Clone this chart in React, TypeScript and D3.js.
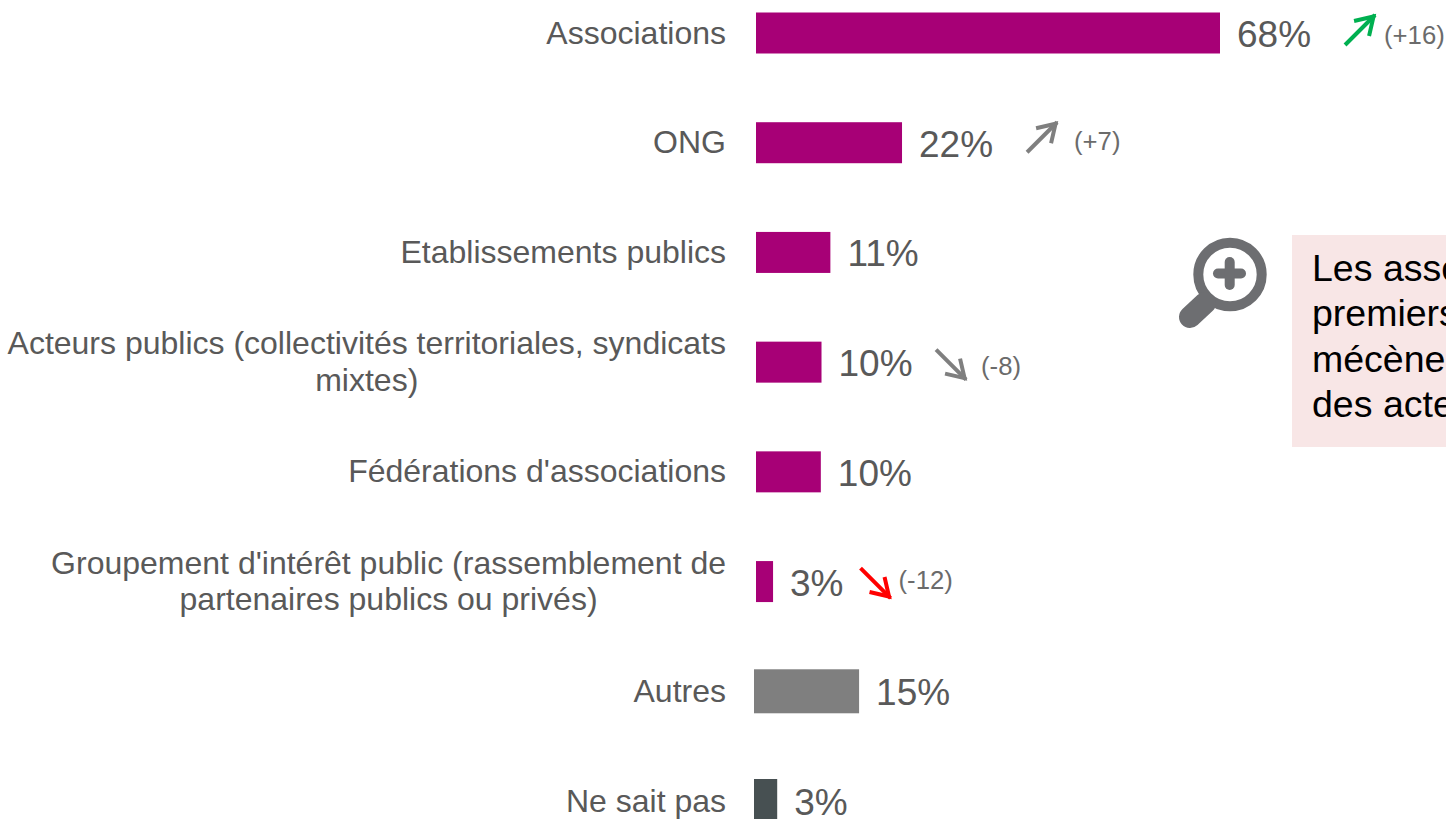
import React from "react";
import * as d3 from "d3";

const categories = [
  "Associations",
  "ONG",
  "Etablissements publics",
  "Acteurs publics (collectivités territoriales, syndicats mixtes)",
  "Fédérations d'associations",
  "Groupement d'intérêt public (rassemblement de partenaires publics ou privés)",
  "Autres",
  "Ne sait pas",
];
const categoryLines = [
  ["Associations"],
  ["ONG"],
  ["Etablissements publics"],
  ["Acteurs publics (collectivités territoriales, syndicats", "mixtes)"],
  ["Fédérations d'associations"],
  ["Groupement d'intérêt public (rassemblement de", "partenaires publics ou privés)"],
  ["Autres"],
  ["Ne sait pas"],
];
const barValues = [68, 21.4, 10.9, 9.6, 9.5, 2.5, 15.4, 3.4];
const valueLabels = ["68%", "22%", "11%", "10%", "10%", "3%", "15%", "3%"];
const barGroups = ["main", "main", "main", "main", "main", "main", "other", "unknown"];
const deltaLabels = ["(+16)", "(+7)", null, "(-8)", null, "(-12)", null, null];
const deltaDirections = ["up", "up", null, "down", null, "down", null, null];
const deltaColors = ["#00B050", "#7F7F7F", null, "#7F7F7F", null, "#FF0000", null, null];
const calloutLines = ["Les associations", "premiers", "mécènes", "des acteurs"];

const FONT = "'Liberation Sans', Arial, sans-serif";
const TEXT = "#595959";
const CAT_SIZE = 32;
const VAL_SIZE = 37;
const DELTA_SIZE = 25.7;

const groupColor = d3.scaleOrdinal<string, string>().domain(["main", "other", "unknown"]).range(["#A70076", "#7F7F7F", "#475052"]);
const groupStart: Record<string, number> = { main: 756, other: 754, unknown: 754 };
const groupHeight: Record<string, number> = { main: 41, other: 44, unknown: 44 };

const x = d3.scaleLinear().domain([0, 68]).range([0, 464]);
const y = d3.scalePoint<number>().domain(categories.map((_, i) => i)).range([33, 801]);

const LABEL_RIGHT = 726;

function textWidth(t: string, size: number) {
  const c = document.createElement("canvas").getContext("2d")!;
  c.font = `${size}px 'Liberation Sans', Arial, sans-serif`;
  return c.measureText(t).width;
}

// gap between the value label and the arrow, for the rows that have one
const arrowGap = [34, 34, 0, 23.5, 0, 17, 0, 0];
const arrowDy = [-3, -5.5, 0, 2.5, 0, 1.5, 0, 0];
const deltaGap = [9, 17, 0, 15, 0, 8, 0, 0];
const deltaDy = [11, 7, 0, 13, 0, 7.5, 0, 0];

function Arrow({ x0, cy, dir, color }: { x0: number; cy: number; dir: string; color: string }) {
  const s = 30;
  const sgn = dir === "up" ? -1 : 1;
  const p = d3.path();
  p.moveTo(x0, cy - (sgn * s) / 2);
  p.lineTo(x0 + s, cy + (sgn * s) / 2);
  const tipX = x0 + s;
  const tipY = cy + (sgn * s) / 2;
  const head = d3.path();
  head.moveTo(tipX - 21, tipY - sgn * 6);
  head.lineTo(tipX - 1.5, tipY - sgn * 1.5);
  head.lineTo(tipX - 6, tipY - sgn * 21);
  return (
    <g fill="none" stroke={color} strokeWidth={4}>
      <path d={p.toString()} />
      <path d={head.toString()} strokeMiterlimit={10} />
    </g>
  );
}

export default function App() {
  return (
    <svg
      width={1446}
      height={819}
      viewBox="0 0 1446 819"
      style={{ position: "absolute", left: 0, top: 0, display: "block", background: "#fff" }}
      fontFamily={FONT}
    >
      {categories.map((_, i) => {
        const cy = y(i)!;
        const lines = categoryLines[i];
        const g = barGroups[i];
        const barEnd = groupStart[g] + x(barValues[i]);
        const valX = barEnd + 17;
        const valW = textWidth(valueLabels[i], VAL_SIZE);
        const aX = valX + valW + arrowGap[i];
        const firstW = textWidth(lines[0], CAT_SIZE);
        return (
          <g key={i}>
            {lines.length === 1 ? (
              <text x={LABEL_RIGHT} y={cy + 10.5} textAnchor="end" fontSize={CAT_SIZE} fill={TEXT}>
                {lines[0]}
              </text>
            ) : (
              lines.map((l, j) => (
                <text
                  key={j}
                  x={LABEL_RIGHT - firstW / 2}
                  y={cy - 8 + j * 36.5}
                  textAnchor="middle"
                  fontSize={CAT_SIZE}
                  fill={TEXT}
                >
                  {l}
                </text>
              ))
            )}
            <rect
              x={groupStart[g]}
              y={cy - groupHeight[g] / 2}
              width={x(barValues[i])}
              height={groupHeight[g]}
              fill={groupColor(g)}
            />
            <text x={valX} y={cy + 14} fontSize={VAL_SIZE} fill={TEXT}>
              {valueLabels[i]}
            </text>
            {deltaLabels[i] && (
              <>
                <Arrow x0={aX} cy={cy + arrowDy[i]} dir={deltaDirections[i]!} color={deltaColors[i]!} />
                <text x={aX + 30 + deltaGap[i]} y={cy + deltaDy[i]} fontSize={DELTA_SIZE} fill="#6B6B6B">
                  {deltaLabels[i]}
                </text>
              </>
            )}
          </g>
        );
      })}

      <g fill="none" stroke="#6D6E71">
        <circle cx={1230} cy={274.5} r={31.7} strokeWidth={10} />
        <line x1={1190} y1={317} x2={1205} y2={303} strokeWidth={22} strokeLinecap="round" />
        <line x1={1218} y1={273.5} x2={1241} y2={273.5} strokeWidth={10} strokeLinecap="round" />
        <line x1={1229.7} y1={262} x2={1229.7} y2={285} strokeWidth={10} strokeLinecap="round" />
      </g>

      <rect x={1292} y={235} width={154} height={212} fill="#F8E6E6" />
      {calloutLines.map((l, i) => (
        <text key={i} x={1312} y={281 + i * 45.3} fontSize={37.5} fill="#000">
          {l}
        </text>
      ))}
    </svg>
  );
}
